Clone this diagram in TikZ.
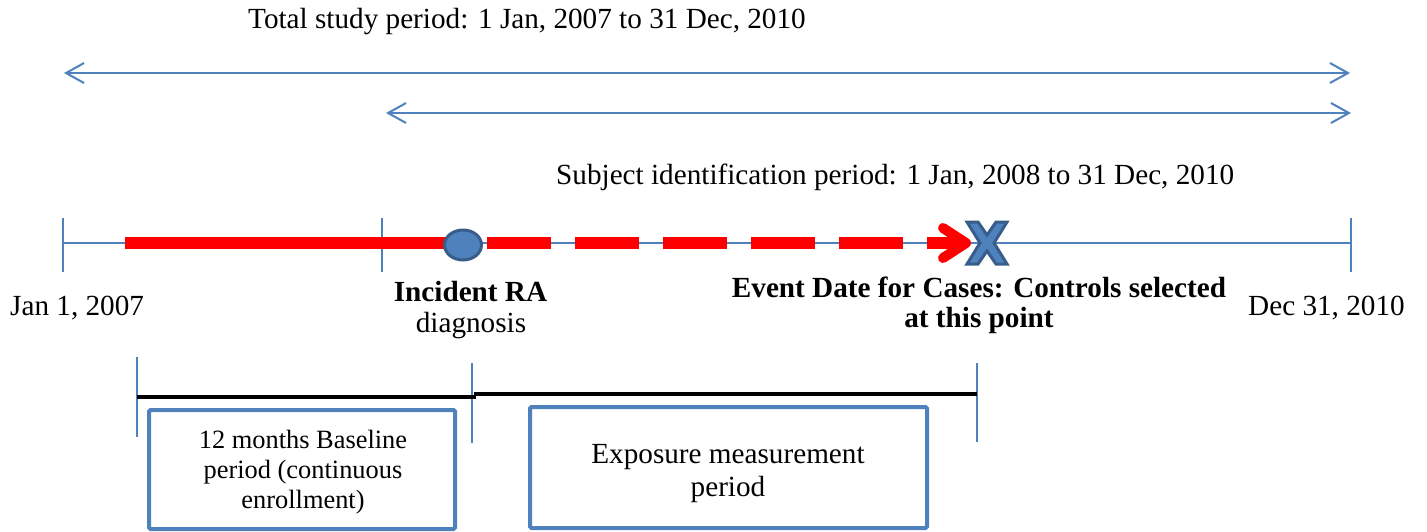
\documentclass[tikz,border=0pt]{standalone}
\usepackage{fontspec}
\setmainfont{Liberation Serif}
\usetikzlibrary{arrows.meta,shapes.geometric}
\definecolor{tblue}{HTML}{4F81BD}
\definecolor{tdark}{HTML}{385D8A}
\definecolor{tred}{HTML}{FF0000}
\tikzset{
  thinblue/.style={draw=tblue, line width=2pt},
  periodarrow/.style={thinblue, {Straight Barb[length=18pt,width=20pt]}-{Straight Barb[length=18pt,width=20pt]}},
  mainlbl/.style={inner sep=0pt, anchor=base, font=\fontsize{29.2}{30}\selectfont},
  boldlbl/.style={mainlbl, font=\fontsize{29.2}{30}\selectfont\bfseries},
  boxlbl/.style={inner sep=0pt, anchor=base, font=\fontsize{26.4}{30}\selectfont},
  periodbox/.style={draw=tblue, line width=4pt, fill=white, rounded corners=1.5pt, inner sep=0pt},
  blackbar/.style={draw=black, line width=4.7pt},
  redsolid/.style={draw=tred, line width=12pt},
}
\begin{document}
\begin{tikzpicture}[x=1pt,y=-1pt]
\useasboundingbox (0,0) rectangle (1427,531);

% coordinates
\coordinate (a1l) at (64,73);   \coordinate (a1r) at (1350,73);
\coordinate (a2l) at (386,113); \coordinate (a2r) at (1351,113);
\coordinate (tl) at (63,243);   \coordinate (tr) at (1351,243);
\coordinate (t1a) at (63,218);  \coordinate (t1b) at (63,272);
\coordinate (t2a) at (382,218); \coordinate (t2b) at (382,272);
\coordinate (t3a) at (1351,218);\coordinate (t3b) at (1351,272);
\coordinate (rs) at (125,243);  \coordinate (re) at (446,243);
\coordinate (ds) at (487,243);  \coordinate (de) at (903,243);
\coordinate (ss) at (927,243);  \coordinate (se) at (964,243);
\coordinate (cha) at (943,228); \coordinate (chb) at (966,243); \coordinate (chc) at (943,258);
\coordinate (b1a) at (137,397); \coordinate (b1b) at (476,397);
\coordinate (b2a) at (474,394); \coordinate (b2b) at (977,394);
\coordinate (v1a) at (137,357); \coordinate (v1b) at (137,437);
\coordinate (v2a) at (472,363); \coordinate (v2b) at (472,443);
\coordinate (v3a) at (977,363); \coordinate (v3b) at (977,442);

% period arrows
\draw[periodarrow] (a1l) -- (a1r);
\draw[periodarrow] (a2l) -- (a2r);
\node[mainlbl, anchor=base west] (ttot) at (248,28) {Total study period: 1 Jan, 2007 to 31 Dec, 2010};
\node[mainlbl, anchor=base west] (tsub) at (556,184) {Subject identification period: 1 Jan, 2008 to 31 Dec, 2010};

% main timeline
\draw[thinblue] (tl) -- (tr);
\draw[thinblue] (t1a) -- (t1b);
\draw[thinblue] (t2a) -- (t2b);
\draw[thinblue] (t3a) -- (t3b);

% red exposure line
\draw[redsolid] (rs) -- (re);
\draw[redsolid, dash pattern=on 64pt off 24pt] (ds) -- (de);
\draw[redsolid] (ss) -- (se);
\draw[draw=tred, line width=10pt, line cap=round, line join=round] (cha) -- (chb) -- (chc);

% incident circle
\node[ellipse, fill=tblue, draw=tdark, line width=3pt, minimum width=37pt, minimum height=30pt, inner sep=0pt] (inc) at (463,245) {};

% event X mark
\draw[fill=tblue, draw=tdark, line width=3pt, line join=miter, shift={(987,243)}]
  (-20,-21) -- (-9,-21) -- (0,-8) -- (9,-21) -- (20,-21) -- (7,0) -- (20,21) -- (9,21)
  -- (0,8) -- (-9,21) -- (-20,21) -- (-7,0) -- cycle;
\coordinate (evt) at (987,243);

% labels
\node[mainlbl, anchor=base west] (jan) at (10,315) {Jan 1, 2007};
\node[mainlbl, anchor=base west] (dec) at (1248,315) {Dec 31, 2010};
\node[boldlbl] (inc1) at (470.5,301) {Incident RA};
\node[mainlbl] (inc2) at (471,332) {diagnosis};
\node[boldlbl] (ev1) at (979,297) {Event Date for Cases: Controls selected};
\node[boldlbl] (ev2) at (979,327) {at this point};

% bottom periods
\draw[thinblue] (v1a) -- (v1b);
\draw[thinblue] (v2a) -- (v2b);
\draw[thinblue] (v3a) -- (v3b);
\draw[blackbar] (b1a) -- (b1b);
\draw[blackbar] (b2a) -- (b2b);

\node[periodbox, minimum width=306pt, minimum height=119pt] (box1) at (302,469.5) {};
\node[periodbox, minimum width=397pt, minimum height=121pt] (box2) at (728.5,467.5) {};
\node[boxlbl] (bl1) at (303,448) {12 months Baseline};
\node[boxlbl] (bl2) at (303,478) {period (continuous};
\node[boxlbl] (bl3) at (303,508) {enrollment)};
\node[mainlbl] (el1) at (728,463) {Exposure measurement};
\node[mainlbl] (el2) at (728,496) {period};
\end{tikzpicture}
\end{document}
